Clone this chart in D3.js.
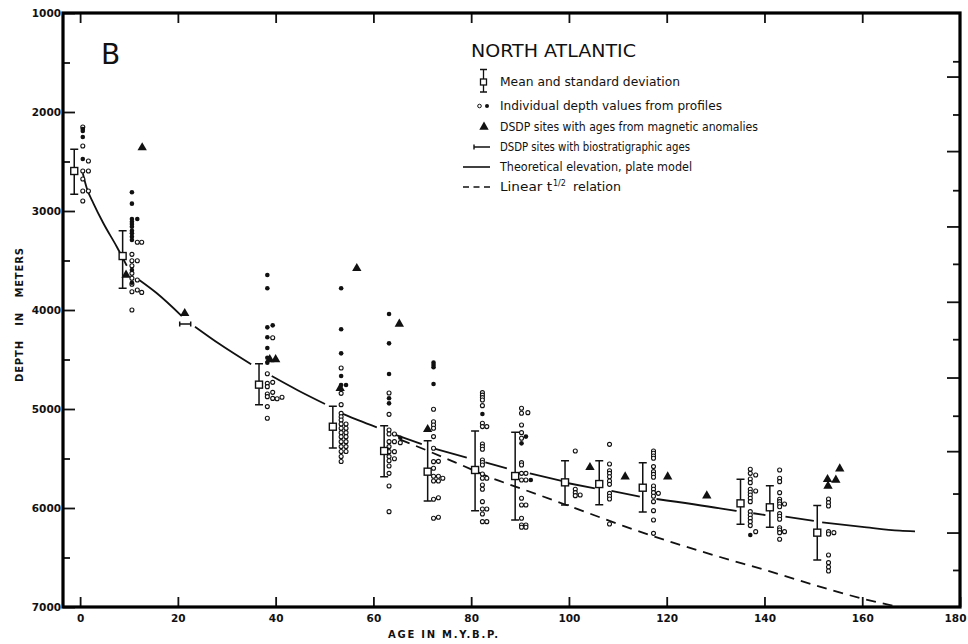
<!DOCTYPE html>
<html>
<head>
<meta charset="utf-8">
<script src="https://cdn.jsdelivr.net/npm/d3@7"></script>
<style>
body{margin:0;background:#fff}
svg{display:block}
text{font-family:"DejaVu Sans",sans-serif;fill:#111}
</style>
</head>
<body>
<svg id="chart" width="968" height="644"></svg>
<script>
var yTicks = [1000,2000,3000,4000,5000,6000,7000];
var yMinor = [1500,2500,3500,4500,5500,6500];
var xTicks = [0,20,40,60,80,100,120,140,160,180];
var rightLong = [1642,2395,3156,3917,4682,5426,6248];
var rightShort = [1488,2025,2790,3534,4295,5068,5854,6626];

var meanAge  = [-1.2,8.7,36.6,51.7,62.2,71.1,80.8,89.0,99.2,106.2,115.1,135.1,141.1,150.8];
var meanDepth= [2596,3455,4754,5179,5424,5633,5616,5677,5741,5758,5795,5953,5993,6249];
var sdTop    = [2377,3199,4542,4973,5169,5320,5222,5236,5522,5522,5542,5710,5774,5976];
var sdBottom = [2831,3781,4957,5394,5684,5929,6027,6121,5970,5966,6040,6165,6195,6525];

var filledPts = [
 [0.55,2172],[0.55,2192],[0.55,2253],[0.55,2475],
 [10.6,2811],[10.6,2926],[10.6,3081],[10.6,3108],[10.6,3131],[10.6,3158],[10.6,3199],[10.6,3225],[10.6,3259],[10.6,3293],[10.6,3596],[10.6,3724],[11.7,3081],
 [38.3,3646],[38.3,3781],[38.3,4175],[38.3,4276],[38.3,4384],[38.3,4482],[38.3,4532],[39.4,4155],
 [53.4,3781],[53.4,4195],[53.4,4438],[53.4,4667],[53.4,4758],[54.4,4758],
 [63.2,4040],[63.2,4337],[63.2,4646],[63.2,4892],[63.2,4943],[65.5,5290],
 [72.3,4532],[72.3,4555],[72.3,4579],[72.3,4747],
 [82.3,5050],
 [90.3,5347],[91.2,5279],[92.2,5717],
 [137.1,6273]
];
var openPts = [
 [0.55,2152],[0.55,2343],[0.55,2596],[0.55,2677],[0.55,2798],[0.55,2899],[1.7,2495],[1.7,2596],[1.7,2798],
 [10.6,3438],[10.6,3502],[10.6,3553],[10.6,3630],[10.6,3680],[10.6,3740],[10.6,3815],[10.6,4000],
 [11.7,3316],[11.7,3502],[11.7,3697],[11.7,3798],[12.6,3316],[12.6,3822],
 [38.3,4644],[38.3,4741],[38.3,4774],[38.3,4848],[38.3,4875],[38.3,4976],[38.3,5093],
 [39.4,4280],[39.4,4731],[39.4,4832],[39.4,4893],[40.3,4896],[41.3,4882],
 [53.4,4586],[53.4,4842],[53.4,4956],[53.4,5044],[53.4,5078],[53.4,5111],[53.4,5152],[53.4,5195],[53.4,5239],[53.4,5280],[53.4,5330],[53.4,5380],[53.4,5430],[53.4,5480],[53.4,5530],
 [54.4,5152],[54.4,5195],[54.4,5239],[54.4,5280],[54.4,5330],[54.4,5380],[54.4,5430],
 [63.2,4838],[63.2,5054],[63.2,5212],[63.2,5253],[63.2,5330],[63.2,5380],[63.2,5431],[63.2,5481],[63.2,5522],[63.2,5576],[63.2,5650],[63.2,5778],[63.2,6037],
 [64.3,5253],[64.3,5330],[64.3,5431],[64.3,5502],[65.5,5340],
 [72.3,5003],[72.3,5129],[72.3,5162],[72.3,5195],[72.3,5279],[72.3,5397],[72.3,5532],[72.3,5599],[72.3,5680],[72.3,5727],[72.3,5912],[72.3,6104],
 [73.3,5529],[73.3,5680],[73.3,5727],[73.3,5896],[73.3,6094],[74.2,5700],
 [82.3,4835],[82.3,4860],[82.3,4885],[82.3,4909],[82.3,4966],[82.3,5144],[82.3,5178],[82.3,5354],[82.3,5380],[82.3,5407],[82.3,5515],[82.3,5540],[82.3,5566],[82.3,5657],[82.3,5700],[82.3,5768],[82.3,5811],[82.3,5936],[82.3,6010],[82.3,6061],[82.3,6138],
 [83.2,5178],[83.2,5700],[83.2,6010],[83.2,6138],
 [90.3,4993],[90.3,5043],[90.3,5162],[90.3,5239],[90.3,5296],[90.3,5542],[90.3,5566],[90.3,5650],[90.3,5717],[90.3,5902],[90.3,5970],[90.3,6104],[90.3,6171],[90.3,6195],
 [91.2,5650],[91.2,5717],[91.2,5970],[91.2,6171],[91.2,6195],[91.6,5037],
 [101.3,5424],[101.3,5811],[101.3,5845],[101.3,5875],[102.3,5869],
 [108.3,5357],[108.3,5556],[108.3,5623],[108.3,5650],[108.3,5684],[108.3,5727],[108.3,5761],[108.3,5852],[108.3,5882],[108.3,5909],[108.3,6162],
 [117.3,5424],[117.3,5447],[117.3,5474],[117.3,5498],[117.3,5582],[117.3,5633],[117.3,5660],[117.3,5690],[117.3,5778],[117.3,5811],[117.3,5845],[117.3,5882],[117.3,5936],[117.3,6027],[117.3,6121],[117.3,6256],[118.3,5852],
 [137.1,5609],[137.1,5650],[137.1,5707],[137.1,5744],[137.1,5811],[137.1,5841],[137.1,5868],[137.1,5902],[137.1,5936],[137.1,6037],[137.1,6071],[137.1,6104],[137.1,6138],[137.1,6178],
 [138.2,5667],[138.2,5828],[138.2,6239],
 [143.1,5616],[143.1,5700],[143.1,5734],[143.1,5845],[143.1,5912],[143.1,5936],[143.1,5960],[143.1,5987],[143.1,6057],[143.1,6084],[143.1,6114],[143.1,6199],[143.1,6222],[143.1,6249],[143.1,6316],
 [144.1,5960],[144.1,6239],
 [153.1,5909],[153.1,5946],[153.1,5980],[153.1,6239],[153.1,6263],[153.1,6475],[153.1,6552],[153.1,6596],[153.1,6636],[154.2,6249]
];
var magSites = [
 [12.7,2360],[9.4,3646],[21.4,4034],[38.8,4500],[40.0,4500],[53.2,4790],[56.6,3579],[65.3,4141],[71.1,5205],
 [104.3,5589],[111.5,5684],[120.2,5684],[128.2,5876],[152.9,5710],[154.6,5717],[153.0,5778],[155.4,5603]
];
var bioSites = [[21.5,4141]];

var plateModel = [
 [[0.55,2619],[1.37,2771],[2.72,2922],[4.76,3124],[7.5,3361],[9.55,3553]],
 [[12.1,3697],[15.7,3831],[20.8,4061]],
 [[23.5,4169],[28.6,4347],[35.0,4549]],
 [[39.2,4667],[44.5,4810],[50.1,4949]],
 [[53.5,5043],[57.0,5115],[60.7,5185]],
 [[64.1,5253],[69.9,5354]],
 [[72.3,5397],[79.1,5492]],
 [[82.9,5539],[87.3,5599]],
 [[92.0,5650],[98.5,5727]],
 [[99.9,5750],[105.3,5801]],
 [[108.7,5828],[114.5,5886]],
 [[117.9,5909],[130.9,6003],[134.3,6030]],
 [[137.7,6053],[140.2,6071]],
 [[144.3,6088],[150.1,6131]],
 [[151.8,6145],[160.0,6190],[167.7,6229],[170.8,6237]]
];
var linearSqrt = [[65.5,5310],[71.6,5432],[77.7,5560],[83.8,5690],[90.0,5800],[100.9,5995],[111.1,6180],[121.3,6350],[130.9,6495],[140.4,6630],[154.1,6835],[160.0,6915],[166.4,6990],[169.5,7030]];

var legendLabels = ['Mean and standard deviation','Individual depth values from profiles','DSDP sites with ages from magnetic anomalies','DSDP sites with biostratigraphic ages','Theoretical elevation, plate model','Linear t'];
var legendWidths = [180,222,258,190,192,52];

var svg = d3.select('#chart');
var x = d3.scaleLinear().domain([-3.5,180]).range([63,960]);
var y = d3.scaleLinear().domain([1000,7000]).range([13,607]);

function styleAxis(g){
  g.select('.domain').remove();
  g.selectAll('line').attr('stroke','#111').attr('stroke-width',1.8);
  g.selectAll('text').attr('font-family','DejaVu Sans').attr('font-weight','bold').attr('font-size',10.5).attr('fill','#111');
}

svg.append('g').attr('transform','translate(63,0)')
  .call(d3.axisLeft(y).tickValues(yTicks).tickSize(-12).tickPadding(2).tickFormat(d3.format('d'))).call(styleAxis);
svg.append('g').attr('transform','translate(63,0)')
  .call(d3.axisLeft(y).tickValues(yMinor).tickSize(-7).tickFormat('')).call(styleAxis);
var xAxis = svg.append('g').attr('transform','translate(0,607)')
  .call(d3.axisBottom(x).tickValues(xTicks).tickSize(-10).tickPadding(8)).call(styleAxis);
xAxis.selectAll('text').filter(function(d){return d===180;}).attr('dx',-5);
svg.append('g').attr('transform','translate(0,13)')
  .call(d3.axisTop(x).tickValues(xTicks.slice(0,-1)).tickSize(-10).tickFormat('')).call(styleAxis);
svg.append('g').attr('transform','translate(960,0)')
  .call(d3.axisLeft(y).tickValues(rightLong).tickSize(13).tickFormat('')).call(styleAxis);
svg.append('g').attr('transform','translate(960,0)')
  .call(d3.axisLeft(y).tickValues(rightShort).tickSize(7).tickFormat('')).call(styleAxis);

svg.append('rect')
  .attr('x',x(-3.5)).attr('y',y(1000))
  .attr('width',x(180)-x(-3.5)).attr('height',y(7000)-y(1000))
  .attr('fill','none').attr('stroke','#000').attr('stroke-width',3.2);

svg.append('text').attr('x',20).attr('y',315)
  .attr('transform','rotate(-90,20,315)')
  .attr('text-anchor','middle').attr('dominant-baseline','middle')
  .attr('font-weight','bold').attr('font-size',10)
  .attr('textLength',134).attr('lengthAdjust','spacing')
  .style('word-spacing','10px')
  .text('DEPTH IN METERS');
svg.append('text').attr('x',388).attr('y',638)
  .attr('font-weight','bold').attr('font-size',10)
  .attr('textLength',110).attr('lengthAdjust','spacing')
  .text('AGE IN M.Y.B.P.');

svg.append('text').attr('x',101).attr('y',63.5)
  .attr('font-family','Liberation Sans').attr('font-size',28).text('B');
svg.append('text').attr('x',471).attr('y',56.7)
  .attr('font-family','Liberation Sans').attr('font-size',18.5)
  .attr('textLength',165).attr('lengthAdjust','spacingAndGlyphs')
  .text('NORTH ATLANTIC');

var line = d3.line().x(function(d){return x(d[0]);}).y(function(d){return y(d[1]);}).curve(d3.curveMonotoneX);

var plot = svg.append('g');
plot.append('clipPath').attr('id','clip').append('rect')
  .attr('x',x(-3.5)).attr('y',y(1000)).attr('width',x(180)-x(-3.5)).attr('height',y(7000)-y(1000));

plot.selectAll('.plate').data(plateModel).enter().append('path')
  .attr('class','plate').attr('d',line)
  .attr('fill','none').attr('stroke','#111').attr('stroke-width',1.8);
plot.append('path').datum(linearSqrt).attr('d',line)
  .attr('clip-path','url(#clip)')
  .attr('fill','none').attr('stroke','#111').attr('stroke-width',1.8).attr('stroke-dasharray','10,7');

plot.selectAll('.open').data(openPts).enter().append('circle')
  .attr('class','open').attr('cx',function(d){return x(d[0]);}).attr('cy',function(d){return y(d[1]);})
  .attr('r',2).attr('fill','#fff').attr('stroke','#111').attr('stroke-width',1.1);
plot.selectAll('.filled').data(filledPts).enter().append('circle')
  .attr('class','filled').attr('cx',function(d){return x(d[0]);}).attr('cy',function(d){return y(d[1]);})
  .attr('r',2.3).attr('fill','#111');

var tri = d3.symbol().type(d3.symbolTriangle).size(38);
plot.selectAll('.mag').data(magSites).enter().append('path')
  .attr('class','mag').attr('d',tri)
  .attr('transform',function(d){return 'translate('+x(d[0])+','+y(d[1])+')';})
  .attr('fill','#111');

var bio = plot.selectAll('.bio').data(bioSites).enter().append('g').attr('class','bio')
  .attr('transform',function(d){return 'translate('+x(d[0])+','+y(d[1])+')';});
bio.append('path').attr('d','M-5.5,0H5.5M-5.5,-2.5V2.5M5.5,-2.5V2.5')
  .attr('stroke','#111').attr('stroke-width',1.5).attr('fill','none');

var means = plot.selectAll('.mean').data(meanAge).enter().append('g').attr('class','mean');
means.append('path')
  .attr('d',function(d,i){
    var cx=x(d), t=y(sdTop[i]), b=y(sdBottom[i]);
    return 'M'+cx+','+t+'V'+b+'M'+(cx-4)+','+t+'H'+(cx+4)+'M'+(cx-4)+','+b+'H'+(cx+4);
  })
  .attr('stroke','#111').attr('stroke-width',1.5).attr('fill','none');
means.append('rect')
  .attr('x',function(d){return x(d)-3.5;}).attr('y',function(d,i){return y(meanDepth[i])-3.5;})
  .attr('width',7).attr('height',7)
  .attr('fill','#fff').attr('stroke','#111').attr('stroke-width',1.4);

var legend = svg.append('g');
var rowY = [82,106,127,147,167,187];
legend.selectAll('.lab').data(legendLabels).enter().append('text')
  .attr('class','lab').attr('x',500).attr('y',function(d,i){return rowY[i]+4;})
  .attr('font-family','Liberation Sans').attr('font-size',12)
  .attr('textLength',function(d,i){return legendWidths[i];}).attr('lengthAdjust','spacingAndGlyphs')
  .text(function(d){return d;});
legend.append('text').attr('x',553).attr('y',rowY[5]-1.5)
  .attr('font-family','Liberation Sans').attr('font-size',8).text('1/2');
legend.append('text').attr('x',573).attr('y',rowY[5]+4)
  .attr('font-family','Liberation Sans').attr('font-size',12)
  .attr('textLength',48).attr('lengthAdjust','spacingAndGlyphs').text('relation');

legend.append('path').attr('d','M483.5,69.5V92M480,69.5H487M480,92H487').attr('stroke','#111').attr('stroke-width',1.3).attr('fill','none');
legend.append('rect').attr('x',480.5).attr('y',79).attr('width',6).attr('height',6).attr('fill','#fff').attr('stroke','#111').attr('stroke-width',1.3);
legend.append('circle').attr('cx',479.5).attr('cy',rowY[1]).attr('r',1.8).attr('fill','#fff').attr('stroke','#111').attr('stroke-width',1);
legend.append('circle').attr('cx',487).attr('cy',rowY[1]).attr('r',2).attr('fill','#111');
legend.append('path').attr('d',tri).attr('transform','translate(484,'+rowY[2]+')').attr('fill','#111');
legend.append('path').attr('d','M474,'+rowY[3]+'H490M474,'+(rowY[3]-2.5)+'V'+(rowY[3]+2.5)).attr('stroke','#111').attr('stroke-width',1.4).attr('fill','none');
legend.append('path').attr('d','M463,'+rowY[4]+'H490').attr('stroke','#111').attr('stroke-width',1.6);
legend.append('path').attr('d','M463,'+rowY[5]+'H490').attr('stroke','#111').attr('stroke-width',1.6).attr('stroke-dasharray','6,4.5');
</script>
</body>
</html>
